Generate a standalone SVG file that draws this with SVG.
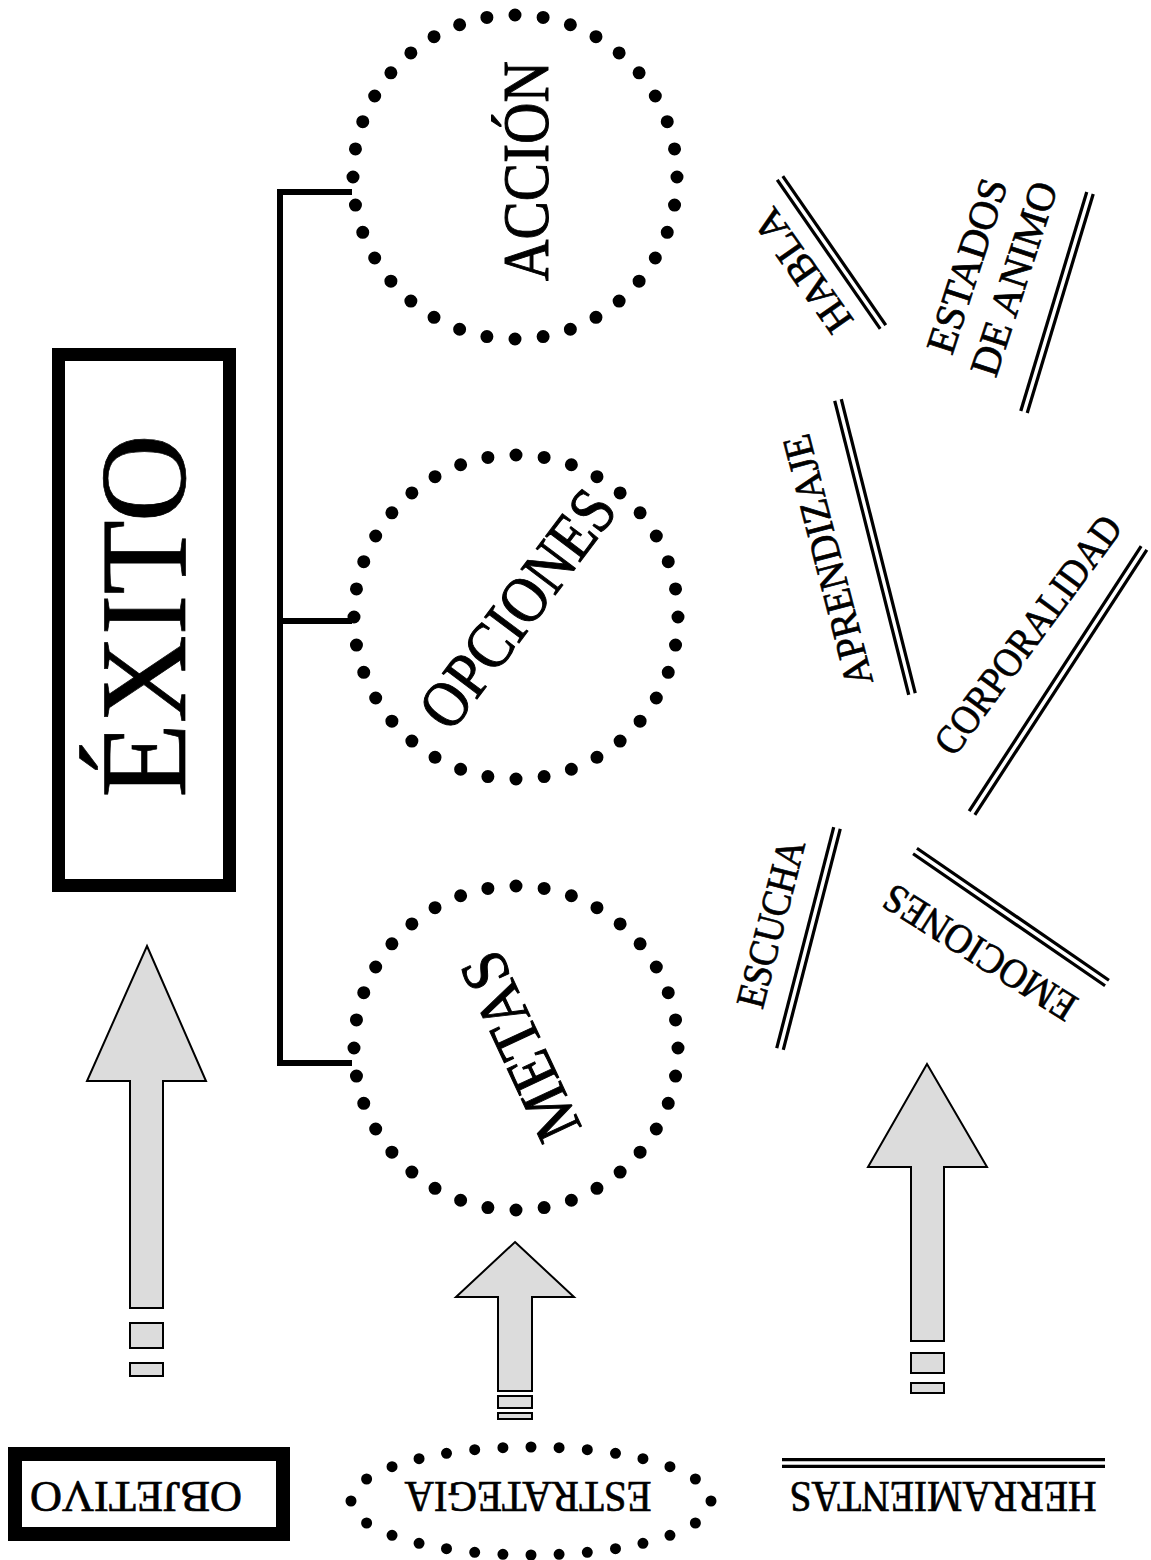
<svg xmlns="http://www.w3.org/2000/svg" width="1151" height="1560" viewBox="0 0 1151 1560" font-family="'Liberation Serif', 'DejaVu Serif', serif">
<style>
text{font-family:'Liberation Serif','DejaVu Serif',serif;fill:#000;stroke:#000;stroke-width:0.7}
.dots{fill:none;stroke:#000;stroke-width:13;stroke-linecap:round;stroke-dasharray:0 1}
.dotsS{fill:none;stroke:#000;stroke-width:11;stroke-linecap:round;stroke-dasharray:0 1}
.arrow{fill:#dcdcdc;stroke:#000;stroke-width:2;stroke-linejoin:miter}
.dblB{stroke:#000;stroke-width:10;stroke-linecap:butt}
.dblW{stroke:#fff;stroke-width:3.5;stroke-linecap:square}
.bracket{fill:none;stroke:#000;stroke-width:6}
.big{font-size:66px;stroke-width:1}
.tool{font-size:41px}
.leg{font-size:44px}
</style>
<rect width="1151" height="1560" fill="#fff"/>

<g id="connectors">
<path class="bracket" d="M352,192 H280 V1063 H352 M280,621 H352"/>
</g>

<g id="exito">
<rect x="58.5" y="354.5" width="171" height="531" fill="#fff" stroke="#000" stroke-width="13"/>
<text transform="translate(185,616) rotate(-90)" text-anchor="middle" font-size="122" stroke-width="1.5">ÉXITO</text>
</g>

<g id="accion">
<circle class="dots" cx="515" cy="177" r="162" pathLength="36"/>
<text class="big" transform="translate(548,171) rotate(-90)" text-anchor="middle" textLength="220" lengthAdjust="spacingAndGlyphs">ACCIÓN</text>
</g>

<g id="opciones">
<circle class="dots" cx="516" cy="617" r="162" pathLength="36"/>
<text class="big" transform="translate(535,622) rotate(-53)" text-anchor="middle" textLength="280" lengthAdjust="spacingAndGlyphs">OPCIONES</text>
</g>

<g id="metas">
<circle class="dots" cx="516" cy="1048" r="162" pathLength="36"/>
<text class="big" transform="translate(540,1037) rotate(-115)" text-anchor="middle" textLength="200" lengthAdjust="spacingAndGlyphs">METAS</text>
</g>

<g id="habla">
<line class="dblB" x1="780" y1="178" x2="883" y2="327"/><line class="dblW" x1="780" y1="178" x2="883" y2="327"/>
<text class="tool" transform="translate(814,263) rotate(-125)" text-anchor="middle">HABLA</text>
</g>

<g id="estados">
<line class="dblB" x1="1090" y1="193" x2="1024" y2="412"/><line class="dblW" x1="1090" y1="193" x2="1024" y2="412"/>
<text class="tool" transform="translate(980,270) rotate(-72)" text-anchor="middle">ESTADOS</text>
<text class="tool" transform="translate(1027,283) rotate(-72)" text-anchor="middle">DE ANIMO</text>
</g>

<g id="aprendizaje">
<line class="dblB" x1="838" y1="400" x2="912" y2="694"/><line class="dblW" x1="838" y1="400" x2="912" y2="694"/>
<text class="tool" transform="translate(841,557) rotate(-104.5)" text-anchor="middle" textLength="258" lengthAdjust="spacingAndGlyphs">APRENDIZAJE</text>
</g>

<g id="corporalidad">
<line class="dblB" x1="1144" y1="548" x2="972" y2="813"/><line class="dblW" x1="1144" y1="548" x2="972" y2="813"/>
<text class="tool" transform="translate(1039,643) rotate(-53.5)" text-anchor="middle" textLength="286" lengthAdjust="spacingAndGlyphs">CORPORALIDAD</text>
</g>

<g id="escucha">
<line class="dblB" x1="837" y1="828" x2="780" y2="1049"/><line class="dblW" x1="837" y1="828" x2="780" y2="1049"/>
<text class="tool" transform="translate(784,927) rotate(-75.6)" text-anchor="middle" textLength="172" lengthAdjust="spacingAndGlyphs">ESCUCHA</text>
</g>

<g id="emociones">
<line class="dblB" x1="915" y1="851" x2="1107" y2="983"/><line class="dblW" x1="915" y1="851" x2="1107" y2="983"/>
<text class="tool" transform="translate(987,941) rotate(-147.8)" text-anchor="middle" textLength="220" lengthAdjust="spacingAndGlyphs">EMOCIONES</text>
</g>

<g id="arrow-objetivo">
<path class="arrow" d="M147,946 L206,1081 H163 V1308 H130 V1081 H87 Z"/>
<rect class="arrow" x="130" y="1323" width="33" height="25"/>
<rect class="arrow" x="130" y="1363" width="33" height="13"/>
</g>

<g id="arrow-estrategia">
<path class="arrow" d="M515,1242 L574,1297 H532 V1391 H498 V1297 H456 Z"/>
<rect class="arrow" x="498" y="1396" width="34" height="12"/>
<rect class="arrow" x="498" y="1413" width="34" height="6"/>
</g>

<g id="arrow-herramientas">
<path class="arrow" d="M927,1064 L987,1167 H944 V1341 H911 V1167 H868 Z"/>
<rect class="arrow" x="911" y="1353" width="33" height="20"/>
<rect class="arrow" x="911" y="1383" width="33" height="10"/>
</g>

<g id="legend-objetivo">
<rect x="15" y="1454" width="268" height="80" fill="#fff" stroke="#000" stroke-width="14"/>
<text class="leg" transform="translate(136,1482) rotate(180)" text-anchor="middle" textLength="212" lengthAdjust="spacingAndGlyphs">OBJETIVO</text>
</g>

<g id="legend-estrategia">
<ellipse class="dotsS" cx="531" cy="1501" rx="180" ry="54" pathLength="28"/>
<text class="leg" transform="translate(528,1482) rotate(180)" text-anchor="middle" textLength="247" lengthAdjust="spacingAndGlyphs">ESTRATEGIA</text>
</g>

<g id="legend-herramientas">
<line class="dblB" x1="782" y1="1463" x2="1105" y2="1463"/><line class="dblW" x1="782" y1="1463" x2="1105" y2="1463"/>
<text class="leg" transform="translate(943,1482) rotate(180)" text-anchor="middle" textLength="307" lengthAdjust="spacingAndGlyphs">HERRAMIENTAS</text>
</g>
</svg>
